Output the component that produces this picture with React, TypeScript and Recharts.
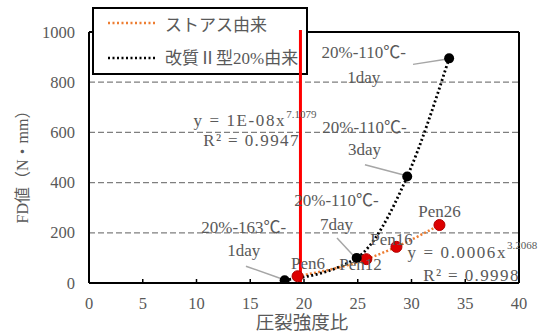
import React from 'react';
import { ComposedChart, Line, Scatter, XAxis, YAxis, ReferenceLine, ReferenceDot, Label } from 'recharts';

// ---- data ----
const xTicks = [0, 5, 10, 15, 20, 25, 30, 35, 40];
const yTicks = [0, 200, 400, 600, 800, 1000];
const gridValues = [200, 400, 600, 800];

const stoasName = 'ストアス由来';
const stoasLabels = ['Pen6', 'Pen12', 'Pen16', 'Pen26'];
const stoasX = [19.4, 25.8, 28.6, 32.6];
const stoasY = [27, 95, 144, 231];

const kaishitsuName = '改質Ⅱ型20%由来';
const kaishitsuLabels = [['20%-163℃-', '1day'], ['20%-110℃-', '7day'], ['20%-110℃-', '3day'], ['20%-110℃-', '1day']];
const kaishitsuX = [18.2, 24.9, 29.6, 33.5];
const kaishitsuY = [11, 100, 424, 895];

const eqKaishitsu = { base: 'y = 1E-08x', exp: '7.1079', r2: 'R² = 0.9947' };
const eqStoas = { base: 'y = 0.0006x', exp: '3.2068', r2: 'R² = 0.9998' };

const redLineX = 19.67;

const xLabel = '圧裂強度比';
const yLabel = 'FD値（N・mm）';

// ---- layout (positions in data units) ----
const kaishitsuLabelPos = [
  { x: 14.4, y: 223, gap: 23, leader: [[14.6, 67], [17.77, 19]] },
  { x: 23.02, y: 327, gap: 24, leader: [[23.07, 179], [24.56, 111]] },
  { x: 25.63, y: 619, gap: 22, leader: [[25.67, 471], [29.2, 431]] },
  { x: 25.55, y: 919, gap: 25, leader: [[30.14, 871], [33.2, 891]] },
];
const stoasLabelPos = [
  { x: 20.37, y: 77 },
  { x: 25.26, y: 75 },
  { x: 28.14, y: 175 },
  { x: 32.6, y: 283 },
];
const eqKaishitsuPos = { x: 15.44, y: 647, rx: 15.12, ry: 567 };
const eqStoasPos = { x: 35.67, y: 123, rx: 35.58, ry: 31 };

const stoasData = stoasX.map((x, i) => ({ x, y: stoasY[i] }));
const kaishitsuData = kaishitsuX.map((x, i) => ({ x, y: kaishitsuY[i] }));

const TXT = '#595959';
const SERIF = '"Liberation Serif", "Noto Sans CJK JP", serif';
const ORANGE = '#ED7D31';

const XTick = (p: any) => (
  <g>
    <line x1={p.x} x2={p.x} y1={p.y} y2={p.y - 4} stroke="#000" strokeWidth={1.5} />
    <text x={p.x} y={p.y + 26} textAnchor="middle" fill={TXT} fontSize={16.5} fontFamily={SERIF}>
      {p.payload.value}
    </text>
  </g>
);

const YTick = (p: any) => (
  <text x={p.x - 14} y={p.y} dominantBaseline="central" textAnchor="end" fill={TXT} fontSize={16.5} fontFamily={SERIF}>
    {p.payload.value}
  </text>
);

const textShape = (lines: string[], gap: number) => (p: any) => (
  <g>
    {lines.map((l, i) => (
      <text key={i} x={p.cx} y={p.cy + i * gap} textAnchor="middle" dominantBaseline="central" fill={TXT} fontSize={17} fontFamily={SERIF}>
        {l}
      </text>
    ))}
  </g>
);

const eqShape = (base: string, exp: string) => (p: any) => (
  <text x={p.cx} y={p.cy} textAnchor="middle" dominantBaseline="central" fill={TXT} fontSize={17} fontFamily={SERIF} letterSpacing={1.6}>
    {base}
    <tspan fontSize={11} dy={-7} letterSpacing={0}>{exp}</tspan>
  </text>
);

const r2Shape = (s: string) => (p: any) => (
  <text x={p.cx} y={p.cy} textAnchor="middle" dominantBaseline="central" fill={TXT} fontSize={17} fontFamily={SERIF} letterSpacing={1.4}>
    {s}
  </text>
);

const RedDot = (p: any) => <circle cx={p.cx} cy={p.cy} r={5.5} fill="#dd0000" stroke="#b00000" strokeWidth={1} />;
const BlackDot = (p: any) => <circle cx={p.cx} cy={p.cy} r={5} fill="#000" />;

const Legend2 = () => (
  <svg width={216} height={68} style={{ position: 'absolute', left: 92, top: 7, zIndex: 0 }}>
    <rect x={1} y={1} width={214} height={66} fill="#fff" stroke="#000" strokeWidth={2} />
    <line x1={16} x2={63} y1={16} y2={16} stroke={ORANGE} strokeWidth={2.5} strokeDasharray="2 2.5" />
    <text x={73} y={18} dominantBaseline="central" fill={TXT} fontSize={17} fontFamily={SERIF}>{stoasName}</text>
    <line x1={16} x2={63} y1={51} y2={51} stroke="#000" strokeWidth={2.5} strokeDasharray="2 2.5" />
    <text x={73} y={51} dominantBaseline="central" fill={TXT} fontSize={17} fontFamily={SERIF}>{kaishitsuName}</text>
  </svg>
);

export default function App() {
  return (
    <div style={{ position: 'absolute', left: 0, top: 0, width: 554, height: 333, background: '#fff' }}>
      <Legend2 />
      <div style={{ position: 'absolute', left: 0, top: 0, zIndex: 1 }}>
        <ComposedChart width={554} height={333} margin={{ top: 32, right: 35, bottom: 0, left: 0 }}>
          <XAxis
            type="number"
            dataKey="x"
            domain={[0, 40]}
            ticks={xTicks}
            allowDataOverflow
            height={50}
            tickLine={false}
            tickSize={0}
            tickMargin={0}
            tick={<XTick />}
            axisLine={{ stroke: '#000', strokeWidth: 2 }}
          >
            <Label
              content={() => (
                <text x={302} y={323} textAnchor="middle" dominantBaseline="central" fill={TXT} fontSize={18.5} fontFamily={SERIF}>
                  {xLabel}
                </text>
              )}
            />
          </XAxis>
          <YAxis
            type="number"
            dataKey="y"
            domain={[0, 1000]}
            ticks={yTicks}
            allowDataOverflow
            width={89}
            tickLine={false}
            tickSize={0}
            tickMargin={0}
            tick={<YTick />}
            axisLine={{ stroke: '#000', strokeWidth: 2 }}
          >
            <Label
              content={() => (
                <text x={22} y={163} transform="rotate(-90 22 163)" textAnchor="middle" dominantBaseline="central" fill={TXT} fontSize={16} fontFamily={SERIF}>
                  {yLabel}
                </text>
              )}
            />
          </YAxis>

          {gridValues.map((v) => (
            <ReferenceLine key={v} y={v} stroke="#7f7f7f" strokeWidth={1.3} strokeDasharray="6 3" />
          ))}
          <ReferenceLine segment={[{ x: 20.28, y: 1000 }, { x: 40, y: 1000 }]} stroke="#000" strokeWidth={2} />
          <ReferenceLine segment={[{ x: 0, y: 1000 }, { x: 0.3, y: 1000 }]} stroke="#000" strokeWidth={2} />
          <ReferenceLine x={40} stroke="#000" strokeWidth={2} />

          {kaishitsuLabelPos.map((a, i) => (
            <ReferenceLine
              key={'ld' + i}
              segment={[{ x: a.leader[0][0], y: a.leader[0][1] }, { x: a.leader[1][0], y: a.leader[1][1] }]}
              stroke="#a6a6a6"
              strokeWidth={1.5}
            />
          ))}

          <Scatter name={stoasName} data={stoasData} dataKey="y" shape={<RedDot />} isAnimationActive={false} />
          <Line
            name={stoasName}
            data={stoasData}
            dataKey="y"
            type="monotone"
            stroke={ORANGE}
            strokeWidth={2.5}
            strokeDasharray="2 2.2"
            dot={false}
            activeDot={false}
            isAnimationActive={false}
          />
          <Line
            name={kaishitsuName}
            data={kaishitsuData}
            dataKey="y"
            type="monotone"
            stroke="#000"
            strokeWidth={2.8}
            strokeDasharray="2 2.5"
            dot={false}
            activeDot={false}
            isAnimationActive={false}
          />
          <Scatter name={kaishitsuName} data={kaishitsuData} dataKey="y" shape={<BlackDot />} isAnimationActive={false} />

          {kaishitsuLabelPos.map((a, i) => (
            <ReferenceDot key={'kl' + i} x={a.x} y={a.y} r={0} shape={textShape(kaishitsuLabels[i], a.gap)} />
          ))}
          {stoasLabelPos.map((a, i) => (
            <ReferenceDot key={'sl' + i} x={a.x} y={a.y} r={0} shape={textShape([stoasLabels[i]], 0)} />
          ))}
          <ReferenceDot x={eqKaishitsuPos.x} y={eqKaishitsuPos.y} r={0} shape={eqShape(eqKaishitsu.base, eqKaishitsu.exp)} />
          <ReferenceDot x={eqKaishitsuPos.rx} y={eqKaishitsuPos.ry} r={0} shape={r2Shape(eqKaishitsu.r2)} />
          <ReferenceDot x={eqStoasPos.x} y={eqStoasPos.y} r={0} shape={eqShape(eqStoas.base, eqStoas.exp)} />
          <ReferenceDot x={eqStoasPos.rx} y={eqStoasPos.ry} r={0} shape={r2Shape(eqStoas.r2)} />

          <ReferenceLine
            segment={[{ x: redLineX, y: 0 }, { x: redLineX, y: 1008 }]}
            ifOverflow="visible"
            stroke="#ff0000"
            strokeWidth={3}
          />
        </ComposedChart>
      </div>
    </div>
  );
}
